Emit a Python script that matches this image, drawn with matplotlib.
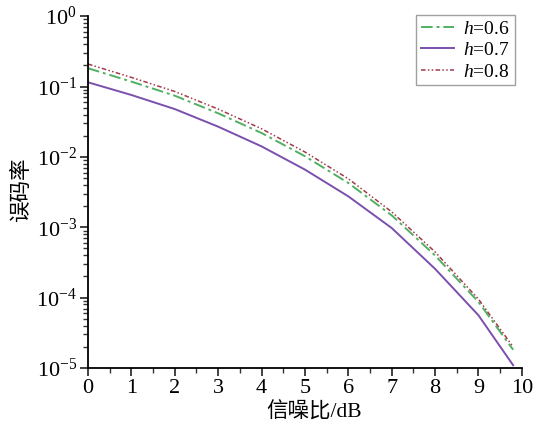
import matplotlib

matplotlib.use("Agg")
import matplotlib.pyplot as plt
from matplotlib.ticker import LogLocator, MultipleLocator

plt.rcParams["font.family"] = ["Liberation Serif", "Noto Sans CJK SC"]
plt.rcParams["mathtext.fontset"] = "custom"
plt.rcParams["mathtext.rm"] = "Liberation Serif"
plt.rcParams["mathtext.it"] = "Liberation Serif:italic"

# SNR (dB) and log10 of bit error rate
snr = [0, 1, 2, 3, 4, 5, 6, 7, 8, 9, 9.8]
log_ber_06 = [-0.74, -0.93, -1.13, -1.38, -1.66, -1.99, -2.37, -2.83, -3.40, -4.06, -4.74]
log_ber_07 = [-0.94, -1.12, -1.32, -1.57, -1.85, -2.18, -2.56, -3.01, -3.59, -4.25, -4.96]
log_ber_08 = [-0.68, -0.87, -1.07, -1.32, -1.60, -1.93, -2.31, -2.78, -3.35, -4.02, -4.70]
labels = ["$h$=0.6", "$h$=0.7", "$h$=0.8"]


def ber_plot():
    fig = plt.figure(figsize=(5.43, 4.25), dpi=100)
    ax = fig.add_axes([0.162, 0.134, 0.799, 0.828])

    ax.plot(snr, [10 ** v for v in log_ber_06], color="#4fb062", lw=1.4,
            ls=(0, (6, 2, 1.5, 2)), label=labels[0])
    ax.plot(snr, [10 ** v for v in log_ber_07], color="#7a4fae", lw=1.4,
            ls="-", label=labels[1])
    ax.plot(snr, [10 ** v for v in log_ber_08], color="#a33a4c", lw=1.1,
            ls=(0, (3, 1.5, 1, 1.5, 1, 1.5)), label=labels[2])

    ax.set_yscale("log")
    ax.set_xlim(0, 10)
    ax.set_ylim(1e-5, 1)
    ax.xaxis.set_major_locator(MultipleLocator(1))
    ax.xaxis.set_minor_locator(MultipleLocator(0.5))
    ax.yaxis.set_major_locator(LogLocator(base=10, numticks=10))
    ax.yaxis.set_minor_locator(LogLocator(base=10, subs=range(2, 10), numticks=10))

    for side in ("top", "right"):
        ax.spines[side].set_visible(False)
    for side in ("left", "bottom"):
        ax.spines[side].set_linewidth(1.3)
    ax.tick_params(which="major", direction="out", length=6, width=1.3,
                   labelsize=16, color="#333333", pad=2)
    ax.tick_params(which="minor", direction="out", length=3.5, width=1.0,
                   color="#333333")

    ax.set_xlabel("信噪比/dB", fontsize=15.5)
    ax.set_ylabel("误码率", fontsize=15.5)
    ax.xaxis.set_label_coords(0.52, -0.097)
    ax.yaxis.set_label_coords(-0.128, 0.506)

    leg = ax.legend(loc="upper right", fontsize=14, frameon=True, fancybox=False,
                    handlelength=1.7, handletextpad=0.5, borderpad=0.25,
                    labelspacing=0.2, borderaxespad=0,
                    bbox_to_anchor=(0.984, 1.003))
    leg.get_frame().set_edgecolor("#888888")
    leg.get_frame().set_linewidth(1.0)

    fig.savefig("out.png", dpi=100)


if __name__ == "__main__":
    ber_plot()
